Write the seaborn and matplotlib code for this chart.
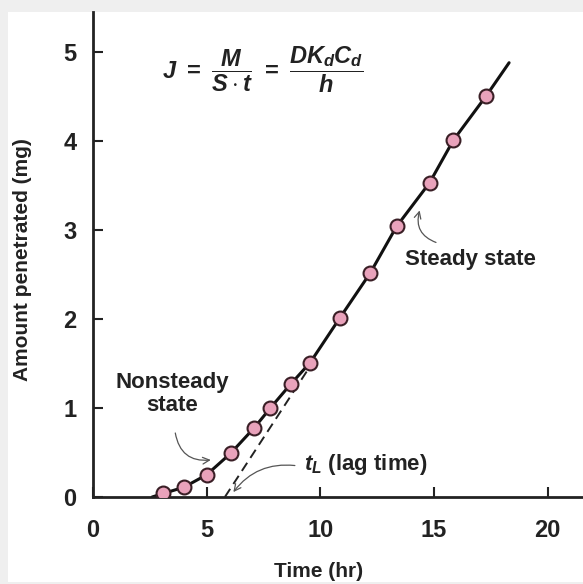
import matplotlib
matplotlib.use("Agg")
import matplotlib.pyplot as plt
import seaborn as sns
import pandas as pd
from matplotlib.patches import Rectangle

# measured points (time in hr, amount in mg)
time_hr = [3.1, 4.0, 5.0, 6.05, 7.1, 7.8, 8.7, 9.55, 10.85, 12.2, 13.35, 14.8, 15.85, 17.3]
amount_mg = [0.04, 0.11, 0.25, 0.49, 0.78, 1.0, 1.27, 1.51, 2.01, 2.52, 3.04, 3.53, 4.01, 4.51]

# ends of the drawn curve beyond the points
curve_start = (2.6, 0.0)
curve_end = (18.3, 4.88)

# dashed extrapolation of the steady-state line
dash_x = [5.8, 9.5]
dash_y = [0.0, 1.45]

x_ticks = [0, 5, 10, 15, 20]
y_ticks = [0, 1, 2, 3, 4, 5]

sns.set_theme(style="white")
plt.rcParams['font.family'] = ['Liberation Sans', 'DejaVu Sans']
plt.rcParams['font.weight'] = 'bold'
plt.rcParams['mathtext.fontset'] = 'custom'
plt.rcParams['mathtext.it'] = 'Liberation Sans:italic:bold'
plt.rcParams['mathtext.rm'] = 'Liberation Sans:bold'
plt.rcParams['mathtext.bf'] = 'Liberation Sans:bold'

ink = '#222222'

fig = plt.figure(figsize=(5.83, 5.84), dpi=100, facecolor='#efefef')
fig.patches.append(Rectangle((8/583, 2/584), 1, 1 - 14/584, transform=fig.transFigure,
                             facecolor='white', edgecolor='none', zorder=-10))
ax = fig.add_axes([93/583, 87/584, 490/583, 485/584])
ax.patch.set_alpha(0)

df = pd.DataFrame({'time': time_hr, 'amount': amount_mg})
curve = pd.concat([pd.DataFrame({'time': [curve_start[0]], 'amount': [curve_start[1]]}),
                   df,
                   pd.DataFrame({'time': [curve_end[0]], 'amount': [curve_end[1]]})])

sns.lineplot(data=curve, x='time', y='amount', color='#111111', lw=2.2, sort=True, ax=ax, zorder=2)
ax.plot(dash_x, dash_y, color=ink, lw=1.4, ls=(0, (5, 3)), zorder=2)
sns.scatterplot(data=df, x='time', y='amount', s=100, color='#e9a2bb', edgecolor='#3a1f26',
                linewidth=1.5, ax=ax, zorder=3)

ax.set_xlim(0, 21.55)
ax.set_ylim(0, 5.45)
ax.set_xticks(x_ticks)
ax.set_yticks(y_ticks)
ax.tick_params(axis='both', direction='in', length=7, width=1.5, color=ink,
               labelsize=17, pad=12, bottom=True, left=True)
for lab in ax.get_xticklabels() + ax.get_yticklabels():
    lab.set_fontweight('bold')
    lab.set_color(ink)
ax.tick_params(axis='x', pad=16)
for s in ['top', 'right']:
    ax.spines[s].set_visible(False)
for s in ['left', 'bottom']:
    ax.spines[s].set_color(ink)
    ax.spines[s].set_linewidth(2)

ax.set_xlabel('Time (hr)', fontsize=15, fontweight='bold', color=ink)
ax.xaxis.set_label_coords(0.46, -0.135)
ax.set_ylabel('Amount penetrated (mg)', fontsize=15, fontweight='bold', color=ink)
ax.yaxis.set_label_coords(-0.125, 0.49)

ax.text(7.45, 4.8, r'$J\ =\ \dfrac{M}{S\cdot t}\ =\ \dfrac{DK_dC_d}{h}$', fontsize=17,
        ha='center', va='center', color=ink)
ax.text(16.6, 2.67, 'Steady state', fontsize=16, ha='center', va='center',
        fontweight='bold', color=ink)
ax.text(3.5, 1.16, 'Nonsteady\nstate', fontsize=16, ha='center', va='center',
        fontweight='bold', color=ink, linespacing=1.15)
ax.text(9.3, 0.37, r'$t_L$ (lag time)', fontsize=16, ha='left', va='center',
        fontweight='bold', color=ink)

ax.annotate('', xy=(14.4, 3.25), xytext=(15.2, 2.85),
            arrowprops=dict(arrowstyle='->', color='#555555', lw=0.9, connectionstyle='arc3,rad=-0.5'))
ax.annotate('', xy=(5.3, 0.42), xytext=(3.6, 0.75),
            arrowprops=dict(arrowstyle='->', color='#555555', lw=0.9, connectionstyle='arc3,rad=0.5'))
ax.annotate('', xy=(6.1, 0.03), xytext=(9.0, 0.35),
            arrowprops=dict(arrowstyle='->', color='#555555', lw=0.9, connectionstyle='arc3,rad=0.3'))

fig.savefig('out.png', dpi=100, facecolor=fig.get_facecolor())
